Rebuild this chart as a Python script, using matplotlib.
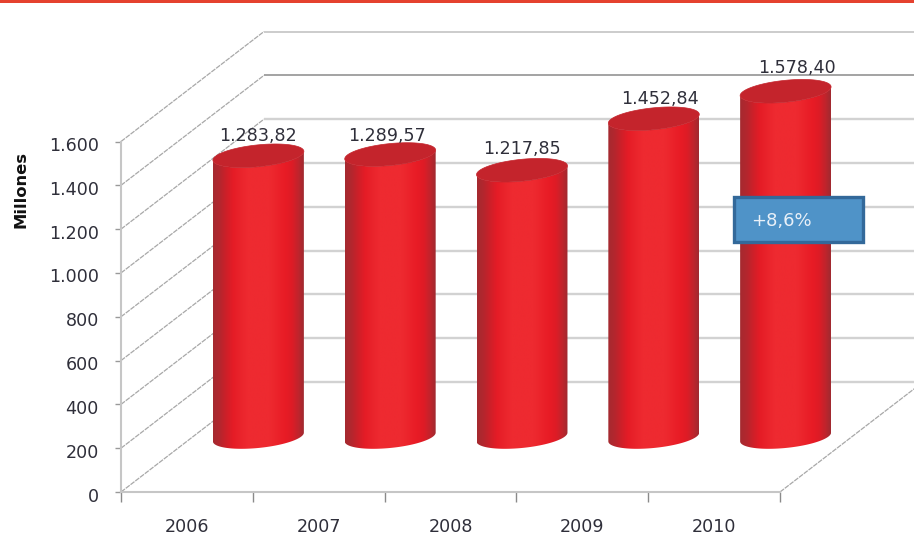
import numpy as np
import matplotlib
matplotlib.use("Agg")
import matplotlib.pyplot as plt
from matplotlib.colors import LinearSegmentedColormap
from matplotlib.patches import Polygon, Rectangle
from matplotlib.transforms import ScaledTranslation

# ---- data ----
years = ["2006", "2007", "2008", "2009", "2010"]
values = [1283.82, 1289.57, 1217.85, 1452.84, 1578.40]
value_labels = ["1.283,82", "1.289,57", "1.217,85", "1.452,84", "1.578,40"]
y_ticks = [0, 200, 400, 600, 800, 1000, 1200, 1400, 1600]
y_tick_labels = ["0", "200", "400", "600", "800", "1.000", "1.200", "1.400", "1.600"]
y_title = "Millones"
callout = "+8,6%"

# ---- style / layout ----
W, H = 914, 535
label_dx = [0, -3, 0, 6, 11]      # px
label_dy = [20, 19, 21, 20, 23]   # px
DEPTH_X, DEPTH_Y = 1.085, 502.0   # 3D depth of the box, data units
HALF_W, CAP_B, CAP_S = 0.345, 50.0, 20.0
TEXT = "#2f2f3a"

fig = plt.figure(figsize=(W / 100, H / 100), dpi=100, facecolor="white")
ax = fig.add_axes([121 / W, (H - 492) / H, 659 / W, 350.5 / H])
ax.set_xlim(-0.5, 4.5)
ax.set_ylim(0, 1600)
ax.patch.set_visible(False)

# red rule on top of the slide
fig.add_artist(Rectangle((0, 1 - 2.5 / H), 1, 2.5 / H, transform=fig.transFigure,
                         facecolor="#e5412f", edgecolor="none"))

# walls of the 3D box
x0, x1 = ax.get_xlim()
for v in y_ticks:
    ax.plot([x0, x0 + DEPTH_X], [v, v + DEPTH_Y], color="#a8a8a8", lw=0.9,
            ls=(0, (4, 0.8)), clip_on=False, zorder=1)
    if v == 1400:
        col, lw = "#9c9c9c", 1.3
    elif v == 1600:
        col, lw = "#cccccc", 1.4
    else:
        col, lw = "#d2d2d2", 1.7
    ax.plot([x0 + DEPTH_X, x1 + 2 * DEPTH_X], [v + DEPTH_Y] * 2, color=col, lw=lw,
            clip_on=False, zorder=1, solid_capstyle="butt")
ax.plot([x1, x1 + DEPTH_X], [0, DEPTH_Y], color="#a8a8a8", lw=0.9,
        ls=(0, (4, 0.8)), clip_on=False, zorder=1)

# cylinders
cmap = LinearSegmentedColormap.from_list("cyl", [
    (0.00, "#a52a30"), (0.07, "#b3272e"), (0.14, "#cc2029"), (0.22, "#e51c26"),
    (0.38, "#ee2a30"), (0.62, "#ee2a30"), (0.80, "#e81b25"), (0.87, "#de1c26"),
    (0.94, "#c0242c"), (1.00, "#a02a30")])
grad = np.linspace(0, 1, 256).reshape(1, -1)
t_low = np.linspace(np.pi, 2 * np.pi, 80)
t_all = np.linspace(0, 2 * np.pi, 160)

for i, v in enumerate(values):
    xc = i + DEPTH_X / 2
    y0 = DEPTH_Y / 2
    y1 = y0 + v
    xs = xc + HALF_W * np.cos(t_low)
    low = CAP_B * np.sin(t_low) + CAP_S * np.cos(t_low)
    body = np.vstack([
        np.column_stack([xs, y0 + low]),
        np.column_stack([xs[::-1], y1 + low[::-1]]),
    ])
    patch = Polygon(body, closed=True, facecolor="none", edgecolor="none",
                    transform=ax.transData, clip_on=False, zorder=3)
    ax.add_patch(patch)
    im = ax.imshow(grad, cmap=cmap, aspect="auto", zorder=3,
                   extent=(xc - HALF_W, xc + HALF_W, y0 - 2 * CAP_B, y1 + CAP_B),
                   interpolation="bilinear")
    im.set_clip_box(fig.bbox)
    im.set_clip_path(patch)
    cap = np.column_stack([xc + HALF_W * np.cos(t_all),
                           y1 + CAP_B * np.sin(t_all) + CAP_S * np.cos(t_all)])
    ax.add_patch(Polygon(cap, closed=True, facecolor="#c4242c", edgecolor="#c4242c",
                         lw=0.5, clip_on=False, zorder=4))
    ax.annotate(value_labels[i], (xc, y1), xytext=(label_dx[i] * 0.72, label_dy[i] * 0.72),
                textcoords="offset points", ha="center", va="center",
                fontsize=12.6, color=TEXT, zorder=6, annotation_clip=False)

ax.set_xlim(x0, x1)
ax.set_ylim(0, 1600)

# axes
for s in ("top", "right"):
    ax.spines[s].set_visible(False)
for s in ("left", "bottom"):
    ax.spines[s].set_color("#c6c6c6")
    ax.spines[s].set_linewidth(1.5)
    ax.spines[s].set_zorder(2)
ax.set_yticks(y_ticks, y_tick_labels)
ax.set_xticks(np.arange(len(years)), years)
ax.set_xticks(np.arange(len(years) + 1) - 0.5, minor=True)
ax.tick_params(axis="y", length=4.5, width=1, color="#999999", pad=11.5,
               labelsize=12.6, labelcolor=TEXT)
ax.tick_params(axis="x", which="major", length=0, pad=18.5,
               labelsize=12.6, labelcolor=TEXT)
ax.tick_params(axis="x", which="minor", length=7.5, width=1, color="#8a8a8a")

# y tick labels sit slightly below their ticks in the reference
shift = ScaledTranslation(0, -2.5 / 100, fig.dpi_scale_trans)
for lab in ax.get_yticklabels():
    lab.set_transform(lab.get_transform() + shift)

fig.text(21 / W, 1 - 189 / H, y_title, rotation=90, ha="center", va="center",
         fontsize=11.8, fontweight="bold", color="#111111")

# callout box
fig.add_artist(Rectangle((733.5 / W, 1 - 241.5 / H), 129 / W, 45 / H,
                         transform=fig.transFigure, facecolor="#4f93c8",
                         edgecolor="#33699a", lw=2.4, zorder=8))
fig.text(751 / W, 1 - 221 / H, callout, ha="left", va="center", fontsize=13,
         color="#e8f0f8", zorder=9)

fig.savefig("out.png", dpi=100, facecolor="white")
